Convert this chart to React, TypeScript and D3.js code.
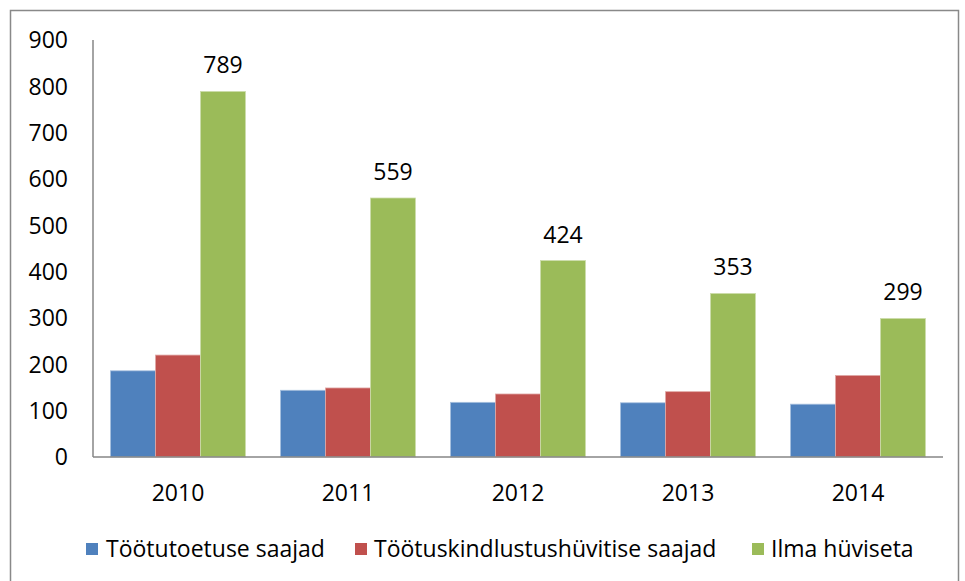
import * as d3 from "d3";

const years = ["2010", "2011", "2012", "2013", "2014"];
const seriesNames = ["Töötutoetuse saajad", "Töötuskindlustushüvitise saajad", "Ilma hüviseta"];
const toetus = [186, 144, 118, 117, 114];
const kindlustus = [220, 149, 136, 141, 176];
const ilma = [789, 559, 424, 353, 299];
const yTicks = [0, 100, 200, 300, 400, 500, 600, 700, 800, 900];
const colors = ["#4F81BD", "#C0504D", "#9BBB59"];
const edges = ["#a7c0de", "#e0a8a6", "#cddcac"];

const W = 965;
const H = 581;
const margin = { top: 40, right: 22, bottom: 124, left: 93 };
const font = "'Open Sans', 'Liberation Sans', sans-serif";
const fs = 23;

export default function App() {
  const values = [toetus, kindlustus, ilma];
  const x0 = d3.scaleBand<string>()
    .domain(years)
    .range([margin.left, W - margin.right])
    .paddingInner(0.206)
    .paddingOuter(0.103);
  const x1 = d3.scaleBand<number>()
    .domain([0, 1, 2])
    .range([0, x0.bandwidth()]);
  const y = d3.scaleLinear().domain([0, 900]).range([H - margin.bottom, margin.top]);

  // legend positions
  const legend = [
    { sq: 86, tx: 106 },
    { sq: 355, tx: 374 },
    { sq: 752, tx: 771 },
  ];

  return (
    <svg width={W} height={H} style={{ position: "absolute", left: 0, top: 0, background: "#fff" }} fontFamily={font}>
      <rect x={10.5} y={10.5} width={948} height={600} fill="none" stroke="#898989" strokeWidth={1.5} />

      {yTicks.map((t) => (
        <text key={t} x={68} y={y(t)} dy="0.36em" textAnchor="end" fontSize={fs} fill="#000">
          {t}
        </text>
      ))}

      {years.map((yr, i) => (
        <g key={yr} transform={`translate(${x0(yr)},0)`}>
          {values.map((vals, s) => (
            <rect
              key={s}
              x={x1(s)}
              y={y(vals[i])}
              width={x1.bandwidth()}
              height={y(0) - y(vals[i])}
              fill={colors[s]}
              stroke={edges[s]}
              strokeWidth={0.8}
            />
          ))}
          <text
            x={(x1(2) ?? 0) + x1.bandwidth() / 2}
            y={y(ilma[i]) - 18}
            textAnchor="middle"
            fontSize={fs}
            fill="#000"
          >
            {ilma[i]}
          </text>
          <text x={x0.bandwidth() / 2} y={y(0) + 44} textAnchor="middle" fontSize={fs} fill="#000">
            {yr}
          </text>
        </g>
      ))}

      <line x1={margin.left} x2={margin.left} y1={margin.top} y2={y(0)} stroke="#868686" strokeWidth={1.5} />
      <line x1={margin.left} x2={W - margin.right} y1={y(0)} y2={y(0)} stroke="#868686" strokeWidth={1.5} />

      {seriesNames.map((n, s) => (
        <g key={n}>
          <rect x={legend[s].sq} y={543} width={12} height={12} fill={colors[s]} />
          <text x={legend[s].tx} y={549} dy="0.36em" fontSize={fs} fill="#000">
            {n}
          </text>
        </g>
      ))}
    </svg>
  );
}
